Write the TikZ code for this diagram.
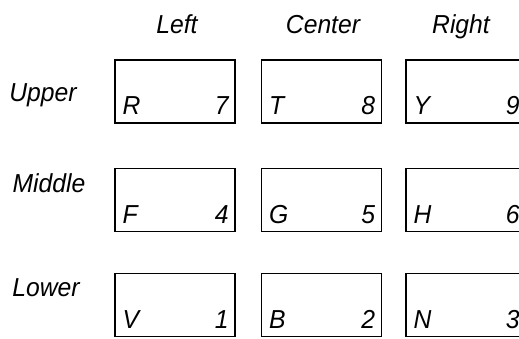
\documentclass[tikz,border=0pt]{standalone}
\usepackage{fontspec}
\setmainfont[FakeStretch=0.95]{Liberation Sans}
\usetikzlibrary{positioning}

\begin{document}
\begin{tikzpicture}[x=1pt,y=-1pt,
  keybox/.style={draw,line width=1.4pt,minimum width=120pt,minimum height=63pt,inner sep=0pt},
  lbl/.style={font=\itshape\fontsize{26}{30}\selectfont,inner sep=0pt,anchor=base}]
  \useasboundingbox (0,0) rectangle (519,338);
  % column headings
  \node[lbl] (hleft) at (177,33) {Left};
  \node[lbl] (hcenter) at (323,33) {Center};
  \node[lbl] (hright) at (461,33) {Right};
  % row headings
  \node[lbl] (rupper) at (43,101) {Upper};
  \node[lbl] (rmiddle) at (49,192) {Middle};
  \node[lbl] (rlower) at (46,296) {Lower};
  % keys: letter bottom left, number bottom right
  \foreach \nm/\cx/\cy/\k/\n in {ul/175/91.5/R/7, uc/321.5/91.5/T/8, ur/466/91.5/Y/9,
    ml/175/200/F/4, mc/321.5/200/G/5, mr/466/200/H/6,
    ll/175/305/V/1, lc/321.5/305/B/2, lr/466/305/N/3}{
    \node[keybox] (\nm) at (\cx,\cy) {};
    \node[lbl,anchor=base west] (\nm k) at ([shift={(8,-9)}]\nm.south west) {\k};
    \node[lbl,anchor=base east] (\nm n) at ([shift={(-7,-9)}]\nm.south east) {\n};
  }
\end{tikzpicture}
\end{document}
